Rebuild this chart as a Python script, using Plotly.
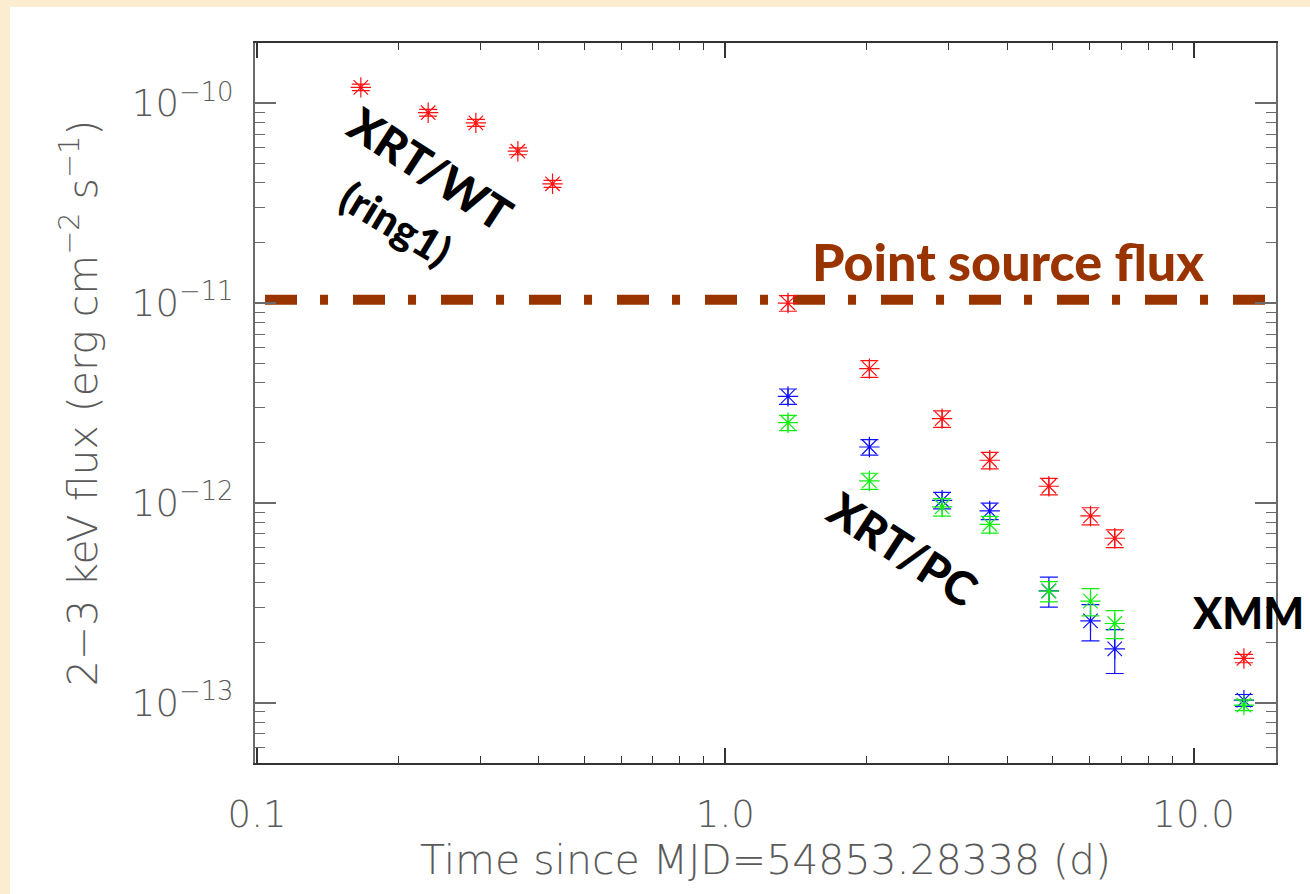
import numpy as np
import plotly.graph_objects as go

# ---- light-curve values (time in days, 2-3 keV flux in erg cm^-2 s^-1) ----
wt_time = [0.1666, 0.232, 0.2933, 0.3606, 0.4276]
wt_red = [1.20e-10, 8.96e-11, 7.97e-11, 5.75e-11, 3.95e-11]
wt_red_err = [4.5e-12, 3.5e-12, 3.2e-12, 2.3e-12, 1.6e-12]

pc_time = [1.361, 2.031, 2.904, 3.670, 4.909, 6.025, 6.788]
pc_red = [1.00e-11, 4.70e-12, 2.64e-12, 1.635e-12, 1.212e-12, 8.61e-13, 6.66e-13]
pc_red_err = [0.9e-12, 0.45e-12, 0.25e-12, 0.155e-12, 0.115e-12, 0.085e-12, 0.068e-12]
pc_blue = [3.415e-12, 1.905e-12, 1.031e-12, 9.12e-13, 3.63e-13, 2.57e-13, 1.862e-13]
pc_blue_err = [0.30e-12, 0.17e-12, 0.098e-12, 0.087e-12, 0.62e-13, 0.53e-13, 0.46e-13]
pc_green = [2.52e-12, 1.288e-12, 9.55e-13, 7.82e-13, 3.62e-13, 3.225e-13, 2.494e-13]
pc_green_err = [0.22e-12, 0.12e-12, 0.095e-12, 0.075e-12, 0.42e-13, 0.50e-13, 0.40e-13]

xmm_time = [12.81]
xmm_red = [1.667e-13]
xmm_red_err = [0.08e-13]
xmm_blue = [1.031e-13]
xmm_blue_err = [0.07e-13]
xmm_green = [9.74e-14]
xmm_green_err = [0.06e-13]

point_source_flux = 1.04e-11
point_source_span = [0.104, 15.0]

x_ticks = [0.1, 1.0, 10.0]
x_tick_text = ["0.1", "1.0", "10.0"]
y_ticks = [1e-13, 1e-12, 1e-11, 1e-10]
y_tick_text = ["10<sup>\u221213</sup>", "10<sup>\u221212</sup>",
               "10<sup>\u221211</sup>", "10<sup>\u221210</sup>"]

RED, BLUE, GREEN = "#ff1010", "#1010ff", "#10ee10"
BROWN = "#993300"
AXIS_GREY = "#6a6a6a"
LABEL_GREY = "#5a5a5a"
CREAM = "#fcedd0"

fig = go.Figure()

# dash-dot level of the point source
fig.add_trace(go.Scatter(
    x=point_source_span, y=[point_source_flux] * 2, mode="lines",
    line=dict(color=BROWN, width=10, dash="32px,23px,8px,25px"),
    hoverinfo="skip", showlegend=False))


def add_series(t, f, e, color):
    fig.add_trace(go.Scatter(
        x=t, y=f, mode="markers",
        marker=dict(symbol="asterisk-open", size=17, color=color,
                    line=dict(color=color, width=1.2)),
        error_y=dict(type="data", array=e, color=color, thickness=1.2, width=9),
        hoverinfo="skip", showlegend=False))


add_series(wt_time + pc_time + xmm_time, wt_red + pc_red + xmm_red,
           wt_red_err + pc_red_err + xmm_red_err, RED)
add_series(pc_time + xmm_time, pc_blue + xmm_blue, pc_blue_err + xmm_blue_err, BLUE)
add_series(pc_time + xmm_time, pc_green + xmm_green, pc_green_err + xmm_green_err, GREEN)

# minor tick positions (2..9 per decade)
x_minor = [m * 10.0 ** d for d in (-1, 0) for m in range(2, 10)]
y_minor = [m * 10.0 ** d for d in (-14, -13, -12, -11, -10) for m in range(2, 10)]

tick_font = dict(family="DejaVu Sans", size=37, color=LABEL_GREY, weight=200)
title_font = dict(family="DejaVu Sans", size=41, color=LABEL_GREY, weight=200)
note_font = dict(family="Lato", size=46, color="black", weight=900)

fig.update_layout(
    width=1310, height=894,
    margin=dict(l=255, r=34, t=43, b=131, autoexpand=False),
    paper_bgcolor=CREAM, plot_bgcolor="white",
    showlegend=False,
    xaxis=dict(
        type="log", range=[np.log10(0.099), np.log10(15.0)],
        tickmode="array", tickvals=x_ticks, ticktext=x_tick_text,
        ticks="inside", ticklen=15, tickwidth=1.5, tickcolor="#333333",
        showline=True, linewidth=2, linecolor="#333333", mirror="allticks",
        showgrid=False, zeroline=False,
        tickfont=tick_font, ticklabelstandoff=18,
        minor=dict(tickmode="array", tickvals=x_minor, ticks="inside",
                   ticklen=7, tickwidth=1.2, tickcolor="#333333", showgrid=False),
        title=dict(text="Time since MJD=54853.28338 (d)", font=title_font, standoff=10),
    ),
    yaxis=dict(
        type="log", range=[np.log10(5e-14), np.log10(2e-10)],
        tickmode="array", tickvals=y_ticks, ticktext=y_tick_text,
        ticks="inside", ticklen=21, tickwidth=1.5, tickcolor=AXIS_GREY,
        showline=True, linewidth=2, linecolor=AXIS_GREY, mirror="allticks",
        showgrid=False, zeroline=False,
        tickfont=tick_font, ticklabelstandoff=12,
        minor=dict(tickmode="array", tickvals=y_minor, ticks="inside",
                   ticklen=10, tickwidth=1.2, tickcolor=AXIS_GREY, showgrid=False),
        title=dict(text="2\u22123 keV flux (erg cm<sup>\u22122</sup> s<sup>\u22121</sup>)",
                   font=title_font, standoff=22),
    ),
    shapes=[dict(type="rect", xref="paper", yref="paper", layer="below",
                 x0=(10 - 255) / 1021, x1=(1320 - 255) / 1021,
                 y0=(763 - 900) / 720, y1=(763 - 7) / 720,
                 fillcolor="white", line=dict(width=0))],
    annotations=[
        dict(text="Point source flux", x=np.log10(4.02), y=-10.79, xref="x", yref="y",
             showarrow=False, font=dict(family="Lato", size=52, color=BROWN, weight=900)),
        dict(text="XRT/WT", x=-0.630, y=-10.327, xref="x", yref="y", textangle=33,
             showarrow=False, font=note_font),
        dict(text="(ring1)", x=-0.704, y=-10.60, xref="x", yref="y", textangle=31,
             showarrow=False, font=dict(family="Lato", size=42, color="black", weight=900)),
        dict(text="XRT/PC", x=0.378, y=-12.23, xref="x", yref="y", textangle=33,
             showarrow=False, font=note_font),
        dict(text="XMM", x=1.116, y=-12.547, xref="x", yref="y",
             showarrow=False, font=dict(family="Lato", size=43, color="black", weight=900)),
    ],
)

fig.write_html("out.html")
